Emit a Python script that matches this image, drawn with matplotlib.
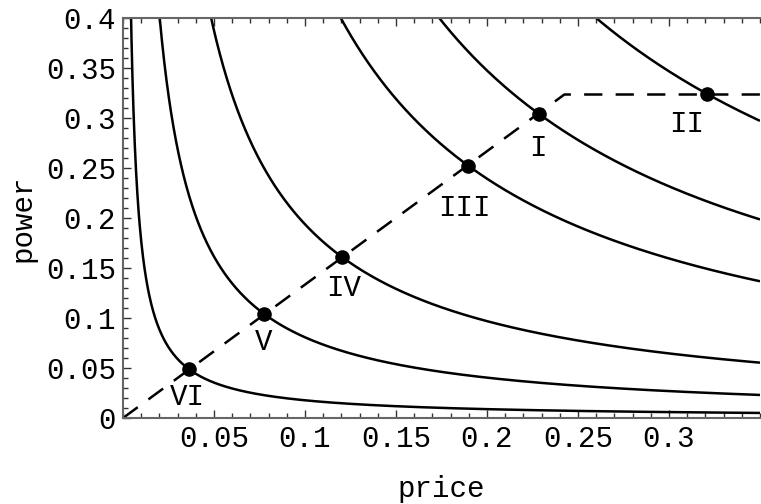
import numpy as np
import matplotlib
matplotlib.use("Agg")
import matplotlib.pyplot as plt
from matplotlib.ticker import MultipleLocator, FixedLocator

# iso-revenue levels (price * power = const), one curve per labelled point
levels = [0.00177, 0.00807, 0.01937, 0.04786, 0.0695, 0.1040]

# operating points
labels = ["VI", "V", "IV", "III", "I", "II"]
pt_price = [0.0363, 0.0776, 0.1205, 0.1897, 0.2286, 0.3211]
pt_power = [0.0487, 0.1040, 0.1607, 0.2523, 0.3040, 0.3240]
lab_price = [0.0355, 0.0770, 0.1212, 0.1874, 0.2280, 0.3096]
lab_power = [0.0210, 0.0755, 0.1305, 0.2100, 0.2700, 0.2945]

# dashed constraint line
dash_price = [0.0, 0.2425, 0.35]
dash_power = [0.0, 0.3235, 0.3235]

xticks = [0.05, 0.1, 0.15, 0.2, 0.25, 0.3]
xticklabels = ["0.05", "0.1", "0.15", "0.2", "0.25", "0.3"]
yticks = [0, 0.05, 0.1, 0.15, 0.2, 0.25, 0.3, 0.35, 0.4]
yticklabels = ["0", "0.05", "0.1", "0.15", "0.2", "0.25", "0.3", "0.35", "0.4"]

font = "Liberation Mono"
fs = 21

fig = plt.figure(figsize=(7.61, 5.04), dpi=100)
ax = fig.add_axes([123 / 761, (504 - 418) / 504, 637 / 761, 400 / 504])

p = np.linspace(0.0005, 0.35, 2000)
for c in levels:
    ax.plot(p, c / p, color="black", lw=1.8, solid_capstyle="butt")

ax.plot(dash_price, dash_power, color="black", lw=1.8, dashes=(7.3, 5.3),
        dash_capstyle="butt")
ax.plot(pt_price, pt_power, "o", color="black", ms=9.5)

for t, x, y in zip(labels, lab_price, lab_power):
    ax.text(x, y, t, ha="center", va="center", fontsize=fs, family=font)

ax.set_xlim(0, 0.35)
ax.set_ylim(0, 0.4)
ax.xaxis.set_major_locator(FixedLocator(xticks))
ax.set_xticklabels(xticklabels)
ax.yaxis.set_major_locator(FixedLocator(yticks))
ax.set_yticklabels(yticklabels)
ax.xaxis.set_minor_locator(MultipleLocator(0.01))
ax.yaxis.set_minor_locator(MultipleLocator(0.01))
ax.tick_params(which="both", direction="in", top=True, right=False, color="#333333", width=1)
ax.tick_params(which="major", length=6, labelsize=fs, pad=5)
ax.tick_params(which="minor", length=3.5)
for lab in ax.get_xticklabels() + ax.get_yticklabels():
    lab.set_family(font)
for s in ax.spines.values():
    s.set_color("#666666")
    s.set_linewidth(1.5)
ax.spines["right"].set_visible(False)

ax.set_xlabel("price", fontsize=fs, family=font, labelpad=16)
ax.set_ylabel("power", fontsize=fs, family=font, labelpad=7)

fig.savefig("out.png", dpi=100)
